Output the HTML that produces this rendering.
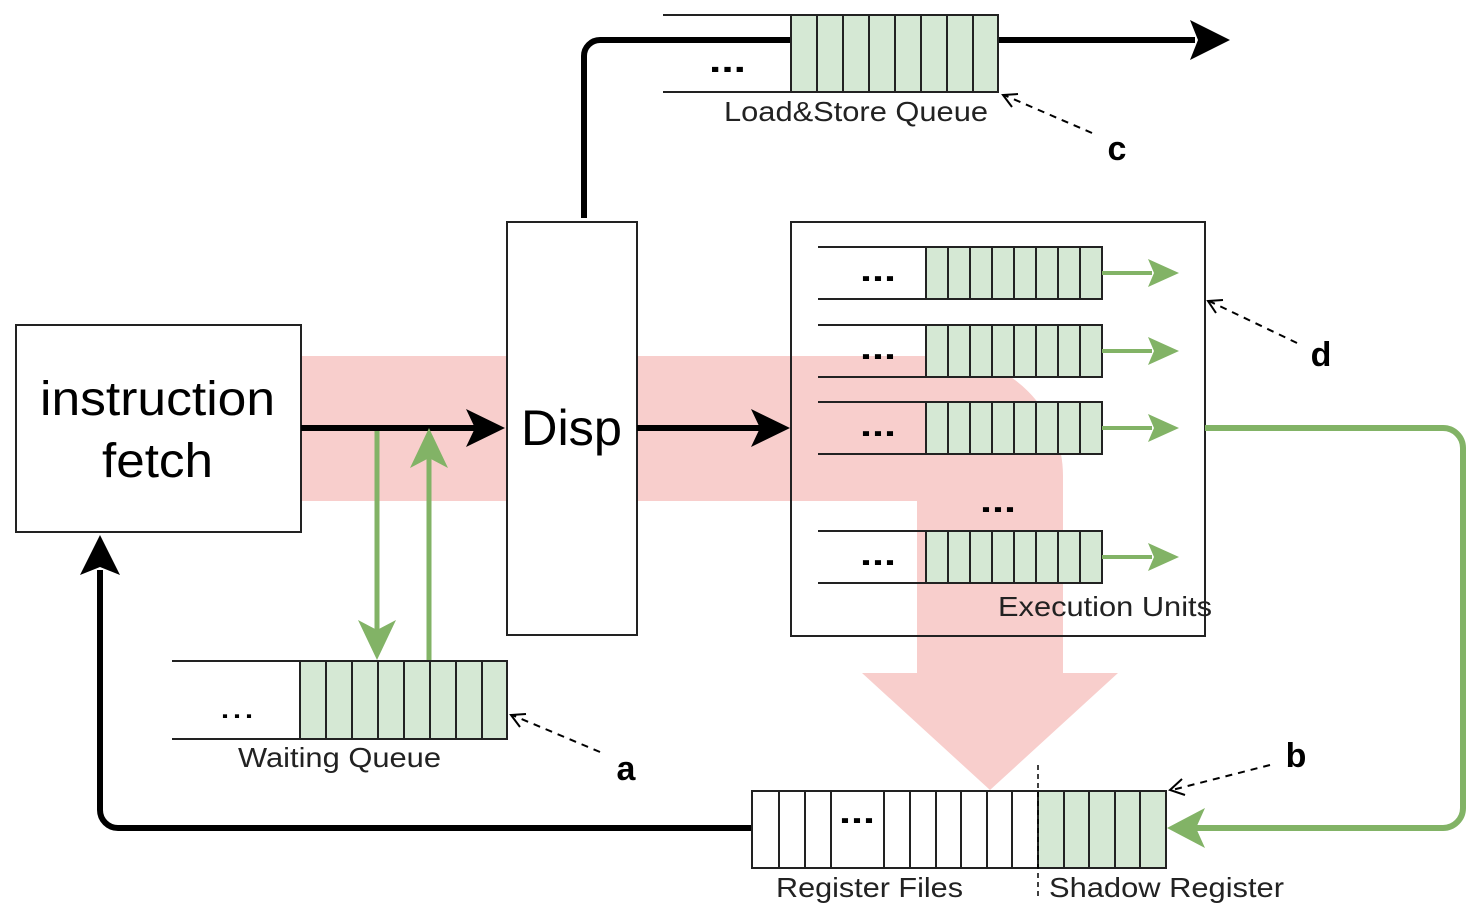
<!DOCTYPE html>
<html><head><meta charset="utf-8"><style>
html,body{margin:0;padding:0;background:#fff;}
svg{display:block;}
text{font-family:"Liberation Sans",sans-serif;}
</style></head><body>
<svg width="1476" height="916" viewBox="0 0 1476 916" xmlns="http://www.w3.org/2000/svg">
<!-- pink flow -->
<path d="M301 356 H943 A120 120 0 0 1 1063 476 V673 H1118 L990 790 L862 673 H917 V501 H301 Z" fill="#f8cecc"/>

<!-- black line Disp -> top -> LSQ -->
<path d="M584 218 V56 A16 16 0 0 1 600 40 H1195" fill="none" stroke="#000" stroke-width="6"/>
<path d="M1230 40 L1190 20 L1198 40 L1190 60 Z" fill="#000"/>

<!-- black feedback line register -> IF -->
<path d="M752 828 H118 A18 18 0 0 1 100 810 V570" fill="none" stroke="#000" stroke-width="6"/>
<path d="M100 535 L80 575 L100 567 L120 575 Z" fill="#000"/>

<!-- IF box -->
<rect x="16" y="325" width="285" height="207" fill="#fff" stroke="#222" stroke-width="2"/>
<text x="40" y="415" font-size="48" textLength="235" lengthAdjust="spacingAndGlyphs">instruction</text>
<text x="102" y="477" font-size="48" textLength="111" lengthAdjust="spacingAndGlyphs">fetch</text>

<!-- Disp box -->
<rect x="507" y="222" width="130" height="413" fill="#fff" stroke="#222" stroke-width="2"/>
<text x="521" y="445" font-size="50" textLength="101" lengthAdjust="spacingAndGlyphs">Disp</text>

<!-- EU box -->
<rect x="791" y="222" width="414" height="414" fill="none" stroke="#222" stroke-width="2"/>

<!-- arrows IF -> Disp -> EU -->
<line x1="301" y1="428" x2="480" y2="428" stroke="#000" stroke-width="6"/>
<path d="M505 428 L466 409 L475 428 L466 447 Z" fill="#000"/>
<line x1="637" y1="428" x2="765" y2="428" stroke="#000" stroke-width="6"/>
<path d="M790 428 L751 409 L760 428 L751 447 Z" fill="#000"/>

<!-- green IF<->WQ -->
<line x1="377" y1="431" x2="377" y2="635" stroke="#82b366" stroke-width="5"/>
<path d="M377 660 L358 620 L377 630 L396 620 Z" fill="#82b366"/>
<line x1="429" y1="661" x2="429" y2="455" stroke="#82b366" stroke-width="5"/>
<path d="M429 428 L410 468 L429 458 L448 468 Z" fill="#82b366"/>

<!-- Waiting Queue -->
<g stroke="#222" stroke-width="2">
<line x1="172" y1="661" x2="300" y2="661"/><line x1="172" y1="739" x2="300" y2="739"/>
<rect x="300" y="661" width="207" height="78" fill="#d5e8d4"/>
<line x1="326" y1="661" x2="326" y2="739"/><line x1="352" y1="661" x2="352" y2="739"/>
<line x1="378" y1="661" x2="378" y2="739"/><line x1="404" y1="661" x2="404" y2="739"/>
<line x1="430" y1="661" x2="430" y2="739"/><line x1="456" y1="661" x2="456" y2="739"/>
<line x1="482" y1="661" x2="482" y2="739"/>
</g>
<text x="219" y="718" font-size="34" textLength="36" lengthAdjust="spacingAndGlyphs">...</text>
<text x="238" y="767" font-size="28" fill="#222" textLength="203" lengthAdjust="spacingAndGlyphs">Waiting Queue</text>
<line x1="600" y1="752" x2="512" y2="715" stroke="#000" stroke-width="2" stroke-dasharray="7,6"/>
<path d="M526 714 L511 715 L520 727" fill="none" stroke="#000" stroke-width="2"/>
<text x="626" y="780" font-size="34" font-weight="bold" text-anchor="middle">a</text>

<!-- Load&Store Queue -->
<g stroke="#222" stroke-width="2">
<line x1="663" y1="15" x2="791" y2="15"/><line x1="663" y1="92" x2="791" y2="92"/>
<rect x="791" y="15" width="207" height="77" fill="#d5e8d4"/>
<line x1="817" y1="15" x2="817" y2="92"/><line x1="843" y1="15" x2="843" y2="92"/>
<line x1="869" y1="15" x2="869" y2="92"/><line x1="895" y1="15" x2="895" y2="92"/>
<line x1="921" y1="15" x2="921" y2="92"/><line x1="947" y1="15" x2="947" y2="92"/>
<line x1="973" y1="15" x2="973" y2="92"/>
</g>
<text x="709" y="72" font-size="34" font-weight="bold" textLength="37" lengthAdjust="spacingAndGlyphs">...</text>
<text x="724" y="121" font-size="28" fill="#222" textLength="264" lengthAdjust="spacingAndGlyphs">Load&amp;Store Queue</text>
<line x1="1092" y1="133" x2="1004" y2="95" stroke="#000" stroke-width="2" stroke-dasharray="7,6"/>
<path d="M1018 94 L1003 95 L1012 107" fill="none" stroke="#000" stroke-width="2"/>
<text x="1117" y="160" font-size="34" font-weight="bold" text-anchor="middle">c</text>

<!-- EU queues -->
<g id="q">
<g stroke="#222" stroke-width="2">
<line x1="818" y1="247" x2="926" y2="247"/><line x1="818" y1="299" x2="926" y2="299"/>
<rect x="926" y="247" width="176" height="52" fill="#d5e8d4"/>
<line x1="948" y1="247" x2="948" y2="299"/><line x1="970" y1="247" x2="970" y2="299"/>
<line x1="992" y1="247" x2="992" y2="299"/><line x1="1014" y1="247" x2="1014" y2="299"/>
<line x1="1036" y1="247" x2="1036" y2="299"/><line x1="1058" y1="247" x2="1058" y2="299"/>
<line x1="1080" y1="247" x2="1080" y2="299"/>
</g>
<text x="860" y="281" font-size="32" font-weight="bold" textLength="36" lengthAdjust="spacingAndGlyphs">...</text>
<line x1="1102" y1="273" x2="1152" y2="273" stroke="#82b366" stroke-width="4"/>
<path d="M1179 273 L1148 259 L1154 273 L1148 287 Z" fill="#82b366"/>
</g>
<use href="#q" y="78"/>
<use href="#q" y="155"/>
<use href="#q" y="284"/>
<text x="980" y="512" font-size="32" font-weight="bold" textLength="36" lengthAdjust="spacingAndGlyphs">...</text>
<text x="998" y="616" font-size="28" fill="#222" textLength="214" lengthAdjust="spacingAndGlyphs">Execution Units</text>
<line x1="1297" y1="343" x2="1209" y2="301" stroke="#000" stroke-width="2" stroke-dasharray="7,6"/>
<path d="M1223 300 L1208 301 L1216 313" fill="none" stroke="#000" stroke-width="2"/>
<text x="1321" y="366" font-size="34" font-weight="bold" text-anchor="middle">d</text>

<!-- green feedback -->
<path d="M1205 428 H1443 A20 20 0 0 1 1463 448 V808 A20 20 0 0 1 1443 828 H1195" fill="none" stroke="#82b366" stroke-width="6"/>
<path d="M1167 828 L1205 808 L1196 828 L1205 848 Z" fill="#82b366"/>

<!-- Register -->
<g stroke="#222" stroke-width="2">
<rect x="752" y="791" width="414" height="77" fill="#fff"/>
<rect x="1038" y="791" width="128" height="77" fill="#d5e8d4"/>
<line x1="779" y1="791" x2="779" y2="868"/><line x1="805" y1="791" x2="805" y2="868"/>
<line x1="831" y1="791" x2="831" y2="868"/><line x1="884" y1="791" x2="884" y2="868"/>
<line x1="910" y1="791" x2="910" y2="868"/><line x1="936" y1="791" x2="936" y2="868"/>
<line x1="961" y1="791" x2="961" y2="868"/><line x1="987" y1="791" x2="987" y2="868"/>
<line x1="1012" y1="791" x2="1012" y2="868"/>
<line x1="1064" y1="791" x2="1064" y2="868"/><line x1="1089" y1="791" x2="1089" y2="868"/>
<line x1="1115" y1="791" x2="1115" y2="868"/><line x1="1140" y1="791" x2="1140" y2="868"/>
</g>
<line x1="1038" y1="765" x2="1038" y2="896" stroke="#000" stroke-width="1.5" stroke-dasharray="5,4"/>
<text x="839" y="823" font-size="32" font-weight="bold" textLength="36" lengthAdjust="spacingAndGlyphs">...</text>
<text x="776" y="897" font-size="28" fill="#222" textLength="187" lengthAdjust="spacingAndGlyphs">Register Files</text>
<text x="1049" y="897" font-size="28" fill="#222" textLength="235" lengthAdjust="spacingAndGlyphs">Shadow Register</text>
<line x1="1270" y1="765" x2="1172" y2="790" stroke="#000" stroke-width="2" stroke-dasharray="7,6"/>
<path d="M1182 779 L1170 790 L1185 795" fill="none" stroke="#000" stroke-width="2"/>
<text x="1296" y="767" font-size="34" font-weight="bold" text-anchor="middle">b</text>
</svg>
</body></html>
